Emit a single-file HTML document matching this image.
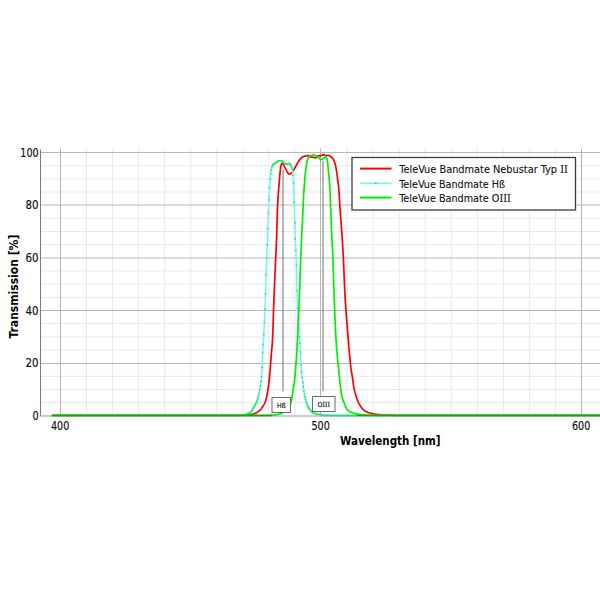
<!DOCTYPE html>
<html><head><meta charset="utf-8"><style>
html,body{margin:0;padding:0;background:#fff;width:600px;height:600px;overflow:hidden}
svg{display:block}
text{font-family:"DejaVu Sans Condensed","DejaVu Sans","Liberation Sans",sans-serif;font-size:11px;fill:#141414}
.i{font-family:"DejaVu Serif Condensed","DejaVu Serif","Liberation Serif",serif}
.b{font-weight:bold;font-size:11.5px;fill:#000}
.s{font-size:7px;fill:#111;stroke:#111;stroke-width:0.15}
.t{font-size:12px;stroke:#141414;stroke-width:0.2}
.l{stroke:#141414;stroke-width:0.12}
</style></head><body>
<svg width="600" height="600" viewBox="0 0 600 600">
<rect width="600" height="600" fill="#fff"/>
<line x1="41" x2="600" y1="402.66" y2="402.66" stroke="#e8e8e8"/>
<line x1="41" x2="600" y1="389.50" y2="389.50" stroke="#e8e8e8"/>
<line x1="41" x2="600" y1="376.33" y2="376.33" stroke="#e8e8e8"/>
<line x1="41" x2="600" y1="350.00" y2="350.00" stroke="#e8e8e8"/>
<line x1="41" x2="600" y1="336.83" y2="336.83" stroke="#e8e8e8"/>
<line x1="41" x2="600" y1="323.66" y2="323.66" stroke="#e8e8e8"/>
<line x1="41" x2="600" y1="297.33" y2="297.33" stroke="#e8e8e8"/>
<line x1="41" x2="600" y1="284.16" y2="284.16" stroke="#e8e8e8"/>
<line x1="41" x2="600" y1="271.00" y2="271.00" stroke="#e8e8e8"/>
<line x1="41" x2="600" y1="244.67" y2="244.67" stroke="#e8e8e8"/>
<line x1="41" x2="600" y1="231.50" y2="231.50" stroke="#e8e8e8"/>
<line x1="41" x2="600" y1="218.33" y2="218.33" stroke="#e8e8e8"/>
<line x1="41" x2="600" y1="192.00" y2="192.00" stroke="#e8e8e8"/>
<line x1="41" x2="600" y1="178.83" y2="178.83" stroke="#e8e8e8"/>
<line x1="41" x2="600" y1="165.67" y2="165.67" stroke="#e8e8e8"/>
<line x1="86.55" x2="86.55" y1="148.5" y2="415.5" stroke="#e8e8e8"/>
<line x1="112.60" x2="112.60" y1="148.5" y2="415.5" stroke="#e8e8e8"/>
<line x1="138.65" x2="138.65" y1="148.5" y2="415.5" stroke="#e8e8e8"/>
<line x1="164.70" x2="164.70" y1="148.5" y2="415.5" stroke="#e8e8e8"/>
<line x1="190.75" x2="190.75" y1="148.5" y2="415.5" stroke="#e8e8e8"/>
<line x1="216.80" x2="216.80" y1="148.5" y2="415.5" stroke="#e8e8e8"/>
<line x1="242.85" x2="242.85" y1="148.5" y2="415.5" stroke="#e8e8e8"/>
<line x1="268.90" x2="268.90" y1="148.5" y2="415.5" stroke="#e8e8e8"/>
<line x1="294.95" x2="294.95" y1="148.5" y2="415.5" stroke="#e8e8e8"/>
<line x1="347.05" x2="347.05" y1="148.5" y2="415.5" stroke="#e8e8e8"/>
<line x1="373.10" x2="373.10" y1="148.5" y2="415.5" stroke="#e8e8e8"/>
<line x1="399.15" x2="399.15" y1="148.5" y2="415.5" stroke="#e8e8e8"/>
<line x1="425.20" x2="425.20" y1="148.5" y2="415.5" stroke="#e8e8e8"/>
<line x1="451.25" x2="451.25" y1="148.5" y2="415.5" stroke="#e8e8e8"/>
<line x1="477.30" x2="477.30" y1="148.5" y2="415.5" stroke="#e8e8e8"/>
<line x1="503.35" x2="503.35" y1="148.5" y2="415.5" stroke="#e8e8e8"/>
<line x1="529.40" x2="529.40" y1="148.5" y2="415.5" stroke="#e8e8e8"/>
<line x1="555.45" x2="555.45" y1="148.5" y2="415.5" stroke="#e8e8e8"/>
<line x1="41" x2="600" y1="152.5" y2="152.5" stroke="#b8b8b8"/>
<line x1="41" x2="600" y1="205.0" y2="205.0" stroke="#b8b8b8"/>
<line x1="41" x2="600" y1="258.0" y2="258.0" stroke="#b8b8b8"/>
<line x1="41" x2="600" y1="310.5" y2="310.5" stroke="#b8b8b8"/>
<line x1="41" x2="600" y1="363.5" y2="363.5" stroke="#b8b8b8"/>
<line x1="60.5" x2="60.5" y1="148.5" y2="415.5" stroke="#b4b4b4"/>
<line x1="320.5" x2="320.5" y1="148.5" y2="415.5" stroke="#b4b4b4"/>
<line x1="581.5" x2="581.5" y1="148.5" y2="415.5" stroke="#b4b4b4"/>
<line x1="40.5" x2="40.5" y1="149.5" y2="416.2" stroke="#7a7a7a"/>
<line x1="40" x2="600" y1="416" y2="416" stroke="#999"/>
<line x1="283" x2="283" y1="170" y2="391.5" stroke="#707070"/>
<line x1="323" x2="323" y1="161" y2="391.5" stroke="#707070"/>
<path d="M52.16,415.45 L237.12,415.43 L237.38,415.42 L237.64,415.41 L237.90,415.40 L238.16,415.38 L238.42,415.37 L238.68,415.35 L238.94,415.34 L239.20,415.32 L239.46,415.30 L239.72,415.29 L239.98,415.27 L240.25,415.25 L240.51,415.23 L240.77,415.22 L241.03,415.20 L241.29,415.19 L241.55,415.17 L241.81,415.16 L242.07,415.15 L242.33,415.14 L242.59,415.12 L242.85,415.11 L243.11,415.11 L243.37,415.10 L243.63,415.09 L243.89,415.08 L244.15,415.07 L244.41,415.06 L244.67,415.05 L244.93,415.04 L245.19,415.03 L245.46,415.03 L245.72,415.02 L245.98,415.01 L246.24,414.99 L246.50,414.98 L246.76,414.97 L247.02,414.96 L247.28,414.94 L247.54,414.93 L247.80,414.91 L248.06,414.90 L248.32,414.88 L248.58,414.85 L248.84,414.83 L249.10,414.80 L249.36,414.76 L249.62,414.73 L249.88,414.69 L250.14,414.65 L250.40,414.61 L250.67,414.56 L250.93,414.52 L251.19,414.47 L251.45,414.42 L251.71,414.37 L251.97,414.31 L252.23,414.26 L252.49,414.20 L252.75,414.14 L253.01,414.08 L253.27,414.01 L253.53,413.93 L253.79,413.85 L254.05,413.76 L254.31,413.67 L254.57,413.57 L254.83,413.47 L255.09,413.37 L255.35,413.26 L255.61,413.15 L255.88,413.03 L256.14,412.90 L256.40,412.76 L256.66,412.61 L256.92,412.45 L257.18,412.29 L257.44,412.12 L257.70,411.95 L257.96,411.77 L258.22,411.59 L258.48,411.40 L258.74,411.20 L259.00,410.99 L259.26,410.78 L259.52,410.55 L259.78,410.32 L260.04,410.07 L260.30,409.81 L260.56,409.54 L260.82,409.25 L261.09,408.93 L261.35,408.59 L261.61,408.23 L261.87,407.86 L262.13,407.47 L262.39,407.08 L262.65,406.68 L262.91,406.28 L263.17,405.89 L263.43,405.50 L263.69,405.09 L263.95,404.65 L264.21,404.19 L264.47,403.68 L264.73,403.13 L264.99,402.49 L265.25,401.77 L265.51,400.97 L265.77,400.12 L266.03,399.23 L266.30,398.31 L266.56,397.33 L266.82,396.27 L267.08,395.10 L267.34,393.77 L267.60,392.21 L267.86,390.48 L268.12,388.67 L268.38,386.78 L268.64,384.78 L268.90,382.65 L269.16,380.36 L269.42,377.87 L269.68,375.14 L269.94,372.22 L270.20,369.17 L270.46,365.97 L270.72,362.49 L270.98,358.88 L271.24,355.33 L271.51,352.02 L271.77,349.16 L272.03,346.37 L272.29,343.20 L272.55,339.17 L272.81,333.29 L273.07,325.78 L273.33,317.43 L273.59,309.02 L273.85,301.34 L274.11,294.66 L274.37,288.25 L274.63,282.06 L274.89,276.02 L275.15,270.09 L275.41,264.22 L275.67,258.40 L275.93,253.09 L276.19,247.88 L276.45,242.07 L276.72,234.69 L276.98,224.75 L277.24,215.60 L277.50,208.05 L277.76,202.21 L278.02,197.86 L278.28,194.21 L278.54,190.81 L278.80,187.39 L279.06,184.11 L279.32,180.98 L279.58,178.01 L279.84,175.14 L280.10,172.24 L280.36,169.63 L280.62,167.66 L280.88,166.17 L281.14,164.96 L281.40,164.19 L281.66,163.71 L281.93,163.35 L282.19,163.20 L282.45,163.28 L282.71,163.49 L282.97,163.78 L283.23,164.11 L283.49,164.47 L283.75,164.93 L284.01,165.48 L284.27,166.06 L284.53,166.64 L284.79,167.18 L285.05,167.68 L285.31,168.18 L285.57,168.66 L285.83,169.15 L286.09,169.62 L286.35,170.10 L286.61,170.59 L286.87,171.10 L287.14,171.60 L287.40,172.08 L287.66,172.52 L287.92,172.90 L288.18,173.22 L288.44,173.55 L288.70,173.85 L288.96,174.07 L289.22,174.19 L289.48,174.19 L289.74,174.13 L290.00,174.03 L290.26,173.92 L290.52,173.79 L290.78,173.62 L291.04,173.39 L291.30,173.12 L291.56,172.82 L291.82,172.51 L292.08,172.20 L292.35,171.87 L292.61,171.52 L292.87,171.14 L293.13,170.76 L293.39,170.37 L293.65,169.98 L293.91,169.58 L294.17,169.17 L294.43,168.76 L294.69,168.33 L294.95,167.89 L295.21,167.43 L295.47,166.95 L295.73,166.45 L295.99,165.94 L296.25,165.44 L296.51,164.94 L296.77,164.47 L297.03,163.99 L297.29,163.52 L297.56,163.05 L297.82,162.60 L298.08,162.16 L298.34,161.74 L298.60,161.34 L298.86,160.95 L299.12,160.57 L299.38,160.20 L299.64,159.86 L299.90,159.52 L300.16,159.21 L300.42,158.90 L300.68,158.60 L300.94,158.32 L301.20,158.05 L301.46,157.80 L301.72,157.58 L301.98,157.37 L302.24,157.17 L302.50,156.98 L302.77,156.82 L303.03,156.68 L303.29,156.57 L303.55,156.47 L303.81,156.38 L304.07,156.31 L304.33,156.25 L304.59,156.20 L304.85,156.17 L305.11,156.14 L305.37,156.12 L305.63,156.10 L305.89,156.09 L306.15,156.06 L306.41,156.04 L306.67,156.00 L306.93,155.94 L307.19,155.83 L307.45,155.69 L307.71,155.56 L307.98,155.46 L308.24,155.40 L308.50,155.44 L308.76,155.58 L309.02,155.80 L309.28,156.07 L309.54,156.36 L309.80,156.62 L310.06,156.84 L310.32,156.98 L310.58,157.03 L310.84,157.07 L311.10,157.10 L311.36,157.13 L311.62,157.15 L311.88,157.17 L312.14,157.19 L312.40,157.21 L312.66,157.23 L312.92,157.26 L313.19,157.28 L313.45,157.32 L313.71,157.37 L313.97,157.44 L314.23,157.51 L314.49,157.58 L314.75,157.64 L315.01,157.70 L315.27,157.75 L315.53,157.79 L315.79,157.80 L316.05,157.75 L316.31,157.60 L316.57,157.38 L316.83,157.12 L317.09,156.83 L317.35,156.54 L317.61,156.28 L317.87,156.07 L318.13,155.93 L318.40,155.89 L318.66,155.88 L318.92,155.87 L319.18,155.86 L319.44,155.85 L319.70,155.85 L319.96,155.84 L320.22,155.83 L320.48,155.82 L320.74,155.80 L321.00,155.77 L321.26,155.67 L321.52,155.53 L321.78,155.36 L322.04,155.18 L322.30,155.00 L322.56,154.84 L322.82,154.71 L323.08,154.62 L323.34,154.60 L323.61,154.64 L323.87,154.73 L324.13,154.86 L324.39,155.00 L324.65,155.16 L324.91,155.31 L325.17,155.44 L325.43,155.54 L325.69,155.59 L325.95,155.60 L326.21,155.59 L326.47,155.56 L326.73,155.54 L326.99,155.51 L327.25,155.48 L327.51,155.45 L327.77,155.42 L328.03,155.41 L328.29,155.40 L328.55,155.42 L328.82,155.49 L329.08,155.59 L329.34,155.72 L329.60,155.87 L329.86,156.04 L330.12,156.22 L330.38,156.41 L330.64,156.59 L330.90,156.77 L331.16,156.95 L331.42,157.16 L331.68,157.38 L331.94,157.63 L332.20,157.89 L332.46,158.19 L332.72,158.54 L332.98,158.93 L333.24,159.35 L333.50,159.81 L333.76,160.30 L334.03,160.85 L334.29,161.45 L334.55,162.12 L334.81,162.89 L335.07,163.75 L335.33,164.71 L335.59,165.80 L335.85,167.04 L336.11,168.42 L336.37,169.89 L336.63,171.50 L336.89,173.25 L337.15,175.13 L337.41,177.23 L337.67,179.54 L337.93,181.76 L338.19,183.63 L338.45,185.44 L338.71,187.64 L338.97,190.82 L339.24,195.08 L339.50,199.82 L339.76,204.43 L340.02,208.39 L340.28,211.98 L340.54,215.39 L340.80,218.68 L341.06,221.95 L341.32,225.27 L341.58,228.73 L341.84,232.41 L342.10,236.33 L342.36,240.42 L342.62,244.69 L342.88,249.18 L343.14,253.92 L343.40,259.08 L343.66,264.88 L343.92,271.08 L344.18,277.39 L344.45,283.56 L344.71,289.32 L344.97,294.40 L345.23,298.83 L345.49,302.98 L345.75,306.90 L346.01,310.62 L346.27,314.19 L346.53,317.63 L346.79,320.98 L347.05,324.29 L347.31,327.59 L347.57,330.91 L347.83,334.19 L348.09,337.41 L348.35,340.57 L348.61,343.67 L348.87,346.71 L349.13,349.70 L349.39,352.63 L349.66,355.51 L349.92,358.38 L350.18,361.24 L350.44,363.93 L350.70,366.28 L350.96,368.26 L351.22,370.03 L351.48,371.66 L351.74,373.22 L352.00,374.78 L352.26,376.43 L352.52,378.23 L352.78,380.15 L353.04,382.09 L353.30,383.95 L353.56,385.66 L353.82,387.12 L354.08,388.38 L354.34,389.56 L354.60,390.66 L354.87,391.68 L355.13,392.65 L355.39,393.57 L355.65,394.46 L355.91,395.32 L356.17,396.17 L356.43,396.99 L356.69,397.79 L356.95,398.56 L357.21,399.31 L357.47,400.02 L357.73,400.70 L357.99,401.35 L358.25,401.96 L358.51,402.53 L358.77,403.06 L359.03,403.59 L359.29,404.10 L359.55,404.58 L359.81,405.05 L360.08,405.50 L360.34,405.93 L360.60,406.34 L360.86,406.73 L361.12,407.09 L361.38,407.43 L361.64,407.74 L361.90,408.04 L362.16,408.33 L362.42,408.62 L362.68,408.89 L362.94,409.15 L363.20,409.41 L363.46,409.65 L363.72,409.88 L363.98,410.11 L364.24,410.32 L364.50,410.52 L364.76,410.71 L365.02,410.89 L365.29,411.06 L365.55,411.21 L365.81,411.36 L366.07,411.49 L366.33,411.63 L366.59,411.76 L366.85,411.88 L367.11,412.00 L367.37,412.11 L367.63,412.22 L367.89,412.33 L368.15,412.43 L368.41,412.53 L368.67,412.63 L368.93,412.72 L369.19,412.81 L369.45,412.89 L369.71,412.97 L369.97,413.05 L370.23,413.13 L370.50,413.20 L370.76,413.26 L371.02,413.33 L371.28,413.39 L371.54,413.45 L371.80,413.51 L372.06,413.57 L372.32,413.63 L372.58,413.69 L372.84,413.74 L373.10,413.79 L373.36,413.84 L373.62,413.89 L373.88,413.94 L374.14,413.99 L374.40,414.03 L374.66,414.08 L374.92,414.12 L375.18,414.16 L375.44,414.20 L375.71,414.24 L375.97,414.27 L376.23,414.31 L376.49,414.34 L376.75,414.37 L377.01,414.40 L377.27,414.43 L377.53,414.46 L377.79,414.48 L378.05,414.51 L378.31,414.53 L378.57,414.56 L378.83,414.58 L379.09,414.61 L379.35,414.63 L379.61,414.65 L379.87,414.67 L380.13,414.69 L380.39,414.71 L380.65,414.73 L380.92,414.75 L381.18,414.77 L381.44,414.79 L381.70,414.80 L381.96,414.82 L382.22,414.84 L382.48,414.85 L382.74,414.87 L383.00,414.88 L383.26,414.90 L383.52,414.91 L383.78,414.93 L384.04,414.94 L384.30,414.95 L384.56,414.97 L384.82,414.98 L385.08,414.99 L385.34,415.00 L385.60,415.01 L385.86,415.03 L386.13,415.04 L386.39,415.05 L386.65,415.06 L386.91,415.07 L387.17,415.08 L387.43,415.09 L387.69,415.10 L387.95,415.11 L388.21,415.12 L388.47,415.13 L388.73,415.14 L388.99,415.15 L389.25,415.16 L389.51,415.17 L389.77,415.18 L390.03,415.19 L390.29,415.20 L390.55,415.20 L390.81,415.21 L391.07,415.22 L391.34,415.23 L391.60,415.24 L391.86,415.25 L392.12,415.25 L392.38,415.26 L392.64,415.27 L392.90,415.28 L393.16,415.29 L393.42,415.30 L393.68,415.30 L393.94,415.31 L394.20,415.32 L394.46,415.33 L394.72,415.34 L394.98,415.35 L395.24,415.36 L395.50,415.37 L395.76,415.37 L396.02,415.38 L396.28,415.39 L396.55,415.40 L396.81,415.40 L397.07,415.41 L397.33,415.42 L397.59,415.42 L397.85,415.43 L398.11,415.43 L600.00,415.45" fill="none" stroke="#ff0000" stroke-width="1.7" stroke-linejoin="round"/>
<path d="M52.16,415.45 L235.04,415.43 L235.30,415.42 L235.56,415.41 L235.82,415.40 L236.08,415.39 L236.34,415.38 L236.60,415.36 L236.86,415.34 L237.12,415.33 L237.38,415.31 L237.64,415.29 L237.90,415.28 L238.16,415.26 L238.42,415.24 L238.68,415.22 L238.94,415.20 L239.20,415.19 L239.46,415.17 L239.72,415.15 L239.98,415.13 L240.25,415.11 L240.51,415.09 L240.77,415.07 L241.03,415.04 L241.29,415.02 L241.55,415.00 L241.81,414.97 L242.07,414.94 L242.33,414.91 L242.59,414.89 L242.85,414.85 L243.11,414.82 L243.37,414.79 L243.63,414.75 L243.89,414.72 L244.15,414.68 L244.41,414.63 L244.67,414.59 L244.93,414.53 L245.19,414.48 L245.46,414.41 L245.72,414.35 L245.98,414.28 L246.24,414.21 L246.50,414.13 L246.76,414.05 L247.02,413.97 L247.28,413.88 L247.54,413.79 L247.80,413.69 L248.06,413.59 L248.32,413.48 L248.58,413.36 L248.84,413.24 L249.10,413.10 L249.36,412.96 L249.62,412.80 L249.88,412.64 L250.14,412.46 L250.40,412.28 L250.67,412.08 L250.93,411.86 L251.19,411.62 L251.45,411.32 L251.71,410.97 L251.97,410.56 L252.23,410.12 L252.49,409.65 L252.75,409.16 L253.01,408.66 L253.27,408.15 L253.53,407.65 L253.79,407.16 L254.05,406.68 L254.31,406.24 L254.57,405.80 L254.83,405.36 L255.09,404.92 L255.35,404.46 L255.61,403.98 L255.88,403.46 L256.14,402.91 L256.40,402.31 L256.66,401.68 L256.92,401.00 L257.18,400.28 L257.44,399.51 L257.70,398.67 L257.96,397.73 L258.22,396.69 L258.48,395.59 L258.74,394.46 L259.00,393.33 L259.26,392.19 L259.52,390.97 L259.78,389.60 L260.04,388.03 L260.30,386.26 L260.56,384.33 L260.82,382.28 L261.09,380.13 L261.35,378.00 L261.61,375.62 L261.87,372.24 L262.13,365.92 L262.39,358.36 L262.65,352.43 L262.91,348.40 L263.17,344.93 L263.43,341.18 L263.69,336.59 L263.95,331.57 L264.21,326.18 L264.47,320.43 L264.73,314.34 L264.99,307.93 L265.25,301.24 L265.51,293.85 L265.77,285.37 L266.03,276.50 L266.30,267.99 L266.56,260.53 L266.82,254.25 L267.08,248.46 L267.34,242.47 L267.60,235.51 L267.86,227.13 L268.12,218.93 L268.38,212.39 L268.64,206.77 L268.90,201.02 L269.16,194.95 L269.42,189.62 L269.68,185.10 L269.94,181.12 L270.20,177.97 L270.46,175.54 L270.72,173.48 L270.98,171.73 L271.24,170.26 L271.51,168.95 L271.77,167.77 L272.03,166.78 L272.29,166.03 L272.55,165.48 L272.81,165.02 L273.07,164.66 L273.33,164.37 L273.59,164.14 L273.85,163.95 L274.11,163.78 L274.37,163.63 L274.63,163.49 L274.89,163.34 L275.15,163.19 L275.41,163.03 L275.67,162.86 L275.93,162.70 L276.19,162.53 L276.45,162.37 L276.72,162.20 L276.98,162.02 L277.24,161.85 L277.50,161.64 L277.76,161.39 L278.02,161.14 L278.28,160.94 L278.54,160.81 L278.80,160.78 L279.06,160.75 L279.32,160.73 L279.58,160.71 L279.84,160.70 L280.10,160.70 L280.36,160.71 L280.62,160.72 L280.88,160.74 L281.14,160.77 L281.40,160.80 L281.66,160.84 L281.93,160.89 L282.19,160.96 L282.45,161.10 L282.71,161.31 L282.97,161.56 L283.23,161.83 L283.49,162.10 L283.75,162.34 L284.01,162.62 L284.27,162.92 L284.53,163.23 L284.79,163.51 L285.05,163.75 L285.31,163.91 L285.57,164.02 L285.83,164.12 L286.09,164.21 L286.35,164.27 L286.61,164.30 L286.87,164.28 L287.14,164.20 L287.40,164.07 L287.66,163.94 L287.92,163.83 L288.18,163.75 L288.44,163.67 L288.70,163.59 L288.96,163.53 L289.22,163.50 L289.48,163.54 L289.74,163.71 L290.00,163.99 L290.26,164.34 L290.52,164.73 L290.78,165.13 L291.04,165.63 L291.30,166.24 L291.56,166.92 L291.82,167.64 L292.08,168.39 L292.35,169.29 L292.61,170.53 L292.87,172.80 L293.13,176.04 L293.39,179.51 L293.65,183.89 L293.91,191.48 L294.17,202.53 L294.43,212.67 L294.69,221.06 L294.95,228.87 L295.21,236.01 L295.47,242.25 L295.73,247.46 L295.99,252.59 L296.25,258.70 L296.51,267.41 L296.77,278.89 L297.03,290.57 L297.29,299.85 L297.56,306.54 L297.82,312.46 L298.08,317.73 L298.34,322.48 L298.60,326.82 L298.86,330.86 L299.12,334.35 L299.38,337.37 L299.64,340.22 L299.90,343.19 L300.16,346.59 L300.42,350.86 L300.68,356.65 L300.94,362.70 L301.20,367.43 L301.46,370.67 L301.72,373.38 L301.98,375.76 L302.24,378.01 L302.50,380.22 L302.77,382.26 L303.03,384.20 L303.29,386.15 L303.55,388.14 L303.81,390.09 L304.07,391.89 L304.33,393.43 L304.59,394.84 L304.85,396.15 L305.11,397.35 L305.37,398.47 L305.63,399.52 L305.89,400.52 L306.15,401.49 L306.41,402.41 L306.67,403.28 L306.93,404.07 L307.19,404.79 L307.45,405.43 L307.71,406.01 L307.98,406.56 L308.24,407.07 L308.50,407.56 L308.76,408.01 L309.02,408.44 L309.28,408.84 L309.54,409.22 L309.80,409.57 L310.06,409.90 L310.32,410.22 L310.58,410.53 L310.84,410.82 L311.10,411.10 L311.36,411.37 L311.62,411.61 L311.88,411.84 L312.14,412.05 L312.40,412.24 L312.66,412.40 L312.92,412.56 L313.19,412.71 L313.45,412.85 L313.71,412.98 L313.97,413.10 L314.23,413.21 L314.49,413.32 L314.75,413.41 L315.01,413.50 L315.27,413.59 L315.53,413.67 L315.79,413.74 L316.05,413.82 L316.31,413.89 L316.57,413.95 L316.83,414.02 L317.09,414.08 L317.35,414.13 L317.61,414.19 L317.87,414.24 L318.13,414.29 L318.40,414.34 L318.66,414.38 L318.92,414.42 L319.18,414.47 L319.44,414.51 L319.70,414.54 L319.96,414.58 L320.22,414.62 L320.48,414.65 L320.74,414.68 L321.00,414.71 L321.26,414.75 L321.52,414.78 L321.78,414.81 L322.04,414.84 L322.30,414.87 L322.56,414.89 L322.82,414.92 L323.08,414.95 L323.34,414.98 L323.61,415.00 L323.87,415.03 L324.13,415.06 L324.39,415.08 L324.65,415.10 L324.91,415.12 L325.17,415.14 L325.43,415.16 L325.69,415.18 L325.95,415.20 L326.21,415.21 L326.47,415.23 L326.73,415.24 L326.99,415.26 L327.25,415.27 L327.51,415.29 L327.77,415.30 L328.03,415.32 L328.29,415.33 L328.55,415.35 L328.82,415.36 L329.08,415.37 L329.34,415.38 L329.60,415.40 L329.86,415.41 L330.12,415.42 L330.38,415.42 L330.64,415.43 L600.00,415.45" fill="none" stroke="#70f6f6" stroke-width="1.5" stroke-linejoin="round"/>
<path d="M321,415.45H357" stroke="#48b8c4" stroke-width="1.5" fill="none"/>
<path d="M235.54,414.63h1.5v1.5h-1.5zM236.11,414.59h1.5v1.5h-1.5zM236.68,414.56h1.5v1.5h-1.5zM237.25,414.52h1.5v1.5h-1.5zM237.83,414.48h1.5v1.5h-1.5zM238.40,414.44h1.5v1.5h-1.5zM238.97,414.40h1.5v1.5h-1.5zM239.55,414.36h1.5v1.5h-1.5zM240.12,414.31h1.5v1.5h-1.5zM240.69,414.26h1.5v1.5h-1.5zM241.27,414.20h1.5v1.5h-1.5zM241.84,414.14h1.5v1.5h-1.5zM242.41,414.07h1.5v1.5h-1.5zM242.99,413.99h1.5v1.5h-1.5zM243.56,413.90h1.5v1.5h-1.5zM244.13,413.79h1.5v1.5h-1.5zM244.71,413.66h1.5v1.5h-1.5zM245.28,413.52h1.5v1.5h-1.5zM245.85,413.35h1.5v1.5h-1.5zM246.42,413.16h1.5v1.5h-1.5zM247.00,412.96h1.5v1.5h-1.5zM247.57,412.73h1.5v1.5h-1.5zM248.14,412.46h1.5v1.5h-1.5zM248.72,412.15h1.5v1.5h-1.5zM249.29,411.79h1.5v1.5h-1.5zM249.86,411.37h1.5v1.5h-1.5zM250.44,410.87h1.5v1.5h-1.5zM251.01,410.14h1.5v1.5h-1.5zM251.58,409.19h1.5v1.5h-1.5zM252.16,408.11h1.5v1.5h-1.5zM252.73,407.00h1.5v1.5h-1.5zM253.30,405.93h1.5v1.5h-1.5zM253.87,404.96h1.5v1.5h-1.5zM254.45,403.99h1.5v1.5h-1.5zM255.02,402.92h1.5v1.5h-1.5zM255.59,401.68h1.5v1.5h-1.5zM256.17,400.25h1.5v1.5h-1.5zM256.74,398.60h1.5v1.5h-1.5zM257.31,396.57h1.5v1.5h-1.5zM257.89,394.16h1.5v1.5h-1.5zM258.46,391.67h1.5v1.5h-1.5zM259.03,388.85h1.5v1.5h-1.5zM259.61,385.14h1.5v1.5h-1.5zM260.18,380.68h1.5v1.5h-1.5zM260.75,375.90h1.5v1.5h-1.5zM261.32,366.62h1.5v1.5h-1.5zM261.90,351.68h1.5v1.5h-1.5zM262.47,343.48h1.5v1.5h-1.5zM263.04,333.88h1.5v1.5h-1.5zM263.62,322.02h1.5v1.5h-1.5zM264.19,308.49h1.5v1.5h-1.5zM264.76,293.10h1.5v1.5h-1.5zM265.34,274.00h1.5v1.5h-1.5zM265.91,257.16h1.5v1.5h-1.5zM266.48,244.19h1.5v1.5h-1.5zM267.06,228.10h1.5v1.5h-1.5zM267.63,211.64h1.5v1.5h-1.5zM268.20,199.05h1.5v1.5h-1.5zM268.78,187.02h1.5v1.5h-1.5zM269.35,178.36h1.5v1.5h-1.5zM269.92,173.11h1.5v1.5h-1.5zM270.49,169.51h1.5v1.5h-1.5zM271.07,166.80h1.5v1.5h-1.5zM271.64,165.05h1.5v1.5h-1.5zM272.21,164.04h1.5v1.5h-1.5zM272.79,163.44h1.5v1.5h-1.5zM273.36,163.03h1.5v1.5h-1.5zM273.93,162.71h1.5v1.5h-1.5zM274.51,162.38h1.5v1.5h-1.5zM275.08,162.01h1.5v1.5h-1.5zM275.65,161.65h1.5v1.5h-1.5zM276.23,161.27h1.5v1.5h-1.5zM276.80,160.84h1.5v1.5h-1.5zM277.37,160.30h1.5v1.5h-1.5zM277.94,160.04h1.5v1.5h-1.5zM278.52,159.98h1.5v1.5h-1.5zM279.09,159.95h1.5v1.5h-1.5zM279.66,159.96h1.5v1.5h-1.5zM280.24,160.00h1.5v1.5h-1.5zM280.81,160.08h1.5v1.5h-1.5zM281.38,160.19h1.5v1.5h-1.5zM281.96,160.56h1.5v1.5h-1.5zM282.53,161.13h1.5v1.5h-1.5zM283.10,161.70h1.5v1.5h-1.5zM283.68,162.36h1.5v1.5h-1.5zM284.25,162.96h1.5v1.5h-1.5zM284.82,163.27h1.5v1.5h-1.5zM285.40,163.47h1.5v1.5h-1.5zM285.97,163.55h1.5v1.5h-1.5zM286.54,163.38h1.5v1.5h-1.5zM287.11,163.10h1.5v1.5h-1.5zM287.69,162.92h1.5v1.5h-1.5zM288.26,162.77h1.5v1.5h-1.5zM288.83,162.84h1.5v1.5h-1.5zM289.41,163.44h1.5v1.5h-1.5zM289.98,164.30h1.5v1.5h-1.5zM290.55,165.49h1.5v1.5h-1.5zM291.13,167.04h1.5v1.5h-1.5zM291.70,168.99h1.5v1.5h-1.5zM292.27,173.94h1.5v1.5h-1.5zM292.85,182.13h1.5v1.5h-1.5zM293.42,201.78h1.5v1.5h-1.5zM293.99,221.92h1.5v1.5h-1.5zM294.56,237.92h1.5v1.5h-1.5zM295.14,249.73h1.5v1.5h-1.5zM295.71,264.62h1.5v1.5h-1.5zM296.28,289.82h1.5v1.5h-1.5zM296.86,307.04h1.5v1.5h-1.5zM297.43,318.94h1.5v1.5h-1.5zM298.00,328.53h1.5v1.5h-1.5zM298.58,336.04h1.5v1.5h-1.5zM299.15,342.44h1.5v1.5h-1.5zM299.72,351.18h1.5v1.5h-1.5zM300.30,364.08h1.5v1.5h-1.5zM300.87,371.60h1.5v1.5h-1.5zM301.44,376.81h1.5v1.5h-1.5zM302.02,381.51h1.5v1.5h-1.5zM302.59,385.80h1.5v1.5h-1.5zM303.16,390.09h1.5v1.5h-1.5zM303.73,393.54h1.5v1.5h-1.5zM304.31,396.37h1.5v1.5h-1.5zM304.88,398.77h1.5v1.5h-1.5zM305.45,400.93h1.5v1.5h-1.5zM306.03,402.85h1.5v1.5h-1.5zM306.60,404.43h1.5v1.5h-1.5zM307.17,405.70h1.5v1.5h-1.5zM307.75,406.81h1.5v1.5h-1.5zM308.32,407.77h1.5v1.5h-1.5zM308.89,408.61h1.5v1.5h-1.5zM309.47,409.34h1.5v1.5h-1.5zM310.04,410.02h1.5v1.5h-1.5zM310.61,410.62h1.5v1.5h-1.5zM311.18,411.13h1.5v1.5h-1.5zM311.76,411.55h1.5v1.5h-1.5zM312.33,411.90h1.5v1.5h-1.5zM312.90,412.20h1.5v1.5h-1.5zM313.48,412.46h1.5v1.5h-1.5zM314.05,412.68h1.5v1.5h-1.5zM314.62,412.87h1.5v1.5h-1.5zM315.20,413.04h1.5v1.5h-1.5zM315.77,413.19h1.5v1.5h-1.5zM316.34,413.33h1.5v1.5h-1.5zM316.92,413.45h1.5v1.5h-1.5zM317.49,413.56h1.5v1.5h-1.5zM318.06,413.66h1.5v1.5h-1.5zM318.63,413.75h1.5v1.5h-1.5zM319.21,413.83h1.5v1.5h-1.5zM319.78,413.91h1.5v1.5h-1.5zM320.25,413.96h1.5v1.5h-1.5zM322.86,414.25h1.5v1.5h-1.5zM325.46,414.46h1.5v1.5h-1.5zM328.06,414.61h1.5v1.5h-1.5zM330.67,414.70h1.5v1.5h-1.5zM333.27,414.70h1.5v1.5h-1.5zM335.88,414.70h1.5v1.5h-1.5zM338.49,414.70h1.5v1.5h-1.5zM341.09,414.70h1.5v1.5h-1.5zM343.69,414.70h1.5v1.5h-1.5zM346.30,414.70h1.5v1.5h-1.5zM348.90,414.70h1.5v1.5h-1.5zM351.51,414.70h1.5v1.5h-1.5zM354.12,414.70h1.5v1.5h-1.5zM356.72,414.70h1.5v1.5h-1.5z" fill="#10ee50"/>
<path d="M52.16,415.45 L263.69,415.43 L263.95,415.43 L264.21,415.42 L264.47,415.42 L264.73,415.41 L264.99,415.40 L265.25,415.39 L265.51,415.38 L265.77,415.38 L266.03,415.37 L266.30,415.36 L266.56,415.35 L266.82,415.34 L267.08,415.33 L267.34,415.31 L267.60,415.30 L267.86,415.29 L268.12,415.28 L268.38,415.27 L268.64,415.26 L268.90,415.25 L269.16,415.24 L269.42,415.22 L269.68,415.21 L269.94,415.20 L270.20,415.19 L270.46,415.18 L270.72,415.17 L270.98,415.16 L271.24,415.15 L271.51,415.13 L271.77,415.12 L272.03,415.11 L272.29,415.09 L272.55,415.08 L272.81,415.06 L273.07,415.05 L273.33,415.03 L273.59,415.01 L273.85,414.99 L274.11,414.98 L274.37,414.95 L274.63,414.93 L274.89,414.91 L275.15,414.89 L275.41,414.86 L275.67,414.83 L275.93,414.79 L276.19,414.75 L276.45,414.71 L276.72,414.67 L276.98,414.62 L277.24,414.57 L277.50,414.52 L277.76,414.47 L278.02,414.41 L278.28,414.35 L278.54,414.29 L278.80,414.22 L279.06,414.16 L279.32,414.09 L279.58,414.02 L279.84,413.95 L280.10,413.87 L280.36,413.79 L280.62,413.69 L280.88,413.59 L281.14,413.49 L281.40,413.37 L281.66,413.25 L281.93,413.12 L282.19,412.99 L282.45,412.86 L282.71,412.72 L282.97,412.58 L283.23,412.44 L283.49,412.30 L283.75,412.15 L284.01,412.00 L284.27,411.84 L284.53,411.67 L284.79,411.50 L285.05,411.32 L285.31,411.13 L285.57,410.94 L285.83,410.74 L286.09,410.52 L286.35,410.30 L286.61,410.06 L286.87,409.81 L287.14,409.55 L287.40,409.27 L287.66,408.98 L287.92,408.67 L288.18,408.36 L288.44,408.02 L288.70,407.68 L288.96,407.33 L289.22,406.94 L289.48,406.51 L289.74,406.04 L290.00,405.50 L290.26,404.85 L290.52,404.06 L290.78,403.15 L291.04,402.15 L291.30,401.05 L291.56,399.76 L291.82,398.30 L292.08,396.72 L292.35,395.03 L292.61,393.12 L292.87,391.23 L293.13,389.59 L293.39,388.11 L293.65,386.68 L293.91,385.18 L294.17,383.47 L294.43,381.45 L294.69,379.03 L294.95,376.31 L295.21,373.35 L295.47,370.26 L295.73,367.12 L295.99,363.93 L296.25,360.57 L296.51,356.94 L296.77,352.93 L297.03,348.28 L297.29,342.92 L297.56,337.26 L297.82,331.68 L298.08,326.34 L298.34,321.08 L298.60,315.76 L298.86,310.23 L299.12,304.37 L299.38,298.00 L299.64,290.71 L299.90,282.78 L300.16,274.69 L300.42,266.92 L300.68,259.91 L300.94,253.43 L301.20,247.27 L301.46,241.35 L301.72,235.63 L301.98,230.22 L302.24,224.99 L302.50,219.81 L302.77,214.53 L303.03,208.92 L303.29,202.77 L303.55,196.86 L303.81,192.08 L304.07,188.34 L304.33,185.08 L304.59,181.92 L304.85,178.79 L305.11,175.88 L305.37,173.37 L305.63,171.16 L305.89,169.16 L306.15,167.35 L306.41,165.64 L306.67,163.95 L306.93,162.37 L307.19,161.00 L307.45,159.94 L307.71,159.20 L307.98,158.59 L308.24,158.08 L308.50,157.65 L308.76,157.28 L309.02,156.94 L309.28,156.65 L309.54,156.40 L309.80,156.20 L310.06,156.04 L310.32,155.90 L310.58,155.78 L310.84,155.66 L311.10,155.57 L311.36,155.48 L311.62,155.42 L311.88,155.36 L312.14,155.31 L312.40,155.26 L312.66,155.21 L312.92,155.17 L313.19,155.14 L313.45,155.12 L313.71,155.10 L313.97,155.10 L314.23,155.13 L314.49,155.18 L314.75,155.25 L315.01,155.35 L315.27,155.46 L315.53,155.59 L315.79,155.72 L316.05,155.86 L316.31,156.00 L316.57,156.14 L316.83,156.29 L317.09,156.47 L317.35,156.67 L317.61,156.88 L317.87,157.10 L318.13,157.32 L318.40,157.55 L318.66,157.77 L318.92,157.98 L319.18,158.18 L319.44,158.39 L319.70,158.61 L319.96,158.85 L320.22,159.08 L320.48,159.29 L320.74,159.45 L321.00,159.56 L321.26,159.60 L321.52,159.56 L321.78,159.45 L322.04,159.29 L322.30,159.09 L322.56,158.87 L322.82,158.66 L323.08,158.45 L323.34,158.27 L323.61,158.08 L323.87,157.87 L324.13,157.65 L324.39,157.45 L324.65,157.27 L324.91,157.15 L325.17,157.10 L325.43,157.13 L325.69,157.21 L325.95,157.35 L326.21,157.53 L326.47,157.80 L326.73,158.35 L326.99,159.13 L327.25,160.18 L327.51,161.86 L327.77,163.92 L328.03,166.63 L328.29,169.63 L328.55,172.40 L328.82,175.03 L329.08,177.78 L329.34,180.78 L329.60,183.89 L329.86,187.55 L330.12,192.59 L330.38,200.19 L330.64,207.70 L330.90,214.34 L331.16,220.75 L331.42,226.93 L331.68,232.87 L331.94,238.36 L332.20,243.41 L332.46,248.43 L332.72,253.86 L332.98,260.13 L333.24,267.75 L333.50,276.21 L333.76,284.82 L334.03,292.88 L334.29,300.11 L334.55,307.22 L334.81,314.11 L335.07,320.61 L335.33,326.55 L335.59,331.78 L335.85,336.36 L336.11,340.53 L336.37,344.36 L336.63,347.89 L336.89,351.18 L337.15,354.24 L337.41,357.03 L337.67,359.61 L337.93,362.08 L338.19,364.53 L338.45,367.04 L338.71,369.66 L338.97,372.33 L339.24,375.01 L339.50,377.65 L339.76,380.21 L340.02,382.65 L340.28,385.05 L340.54,387.39 L340.80,389.54 L341.06,391.39 L341.32,393.05 L341.58,394.57 L341.84,395.94 L342.10,397.11 L342.36,398.08 L342.62,398.92 L342.88,399.67 L343.14,400.35 L343.40,400.99 L343.66,401.64 L343.92,402.30 L344.18,403.01 L344.45,403.76 L344.71,404.52 L344.97,405.27 L345.23,405.99 L345.49,406.65 L345.75,407.23 L346.01,407.71 L346.27,408.12 L346.53,408.52 L346.79,408.89 L347.05,409.24 L347.31,409.57 L347.57,409.87 L347.83,410.16 L348.09,410.42 L348.35,410.67 L348.61,410.89 L348.87,411.08 L349.13,411.26 L349.39,411.42 L349.66,411.56 L349.92,411.70 L350.18,411.84 L350.44,411.96 L350.70,412.08 L350.96,412.20 L351.22,412.30 L351.48,412.41 L351.74,412.51 L352.00,412.60 L352.26,412.69 L352.52,412.78 L352.78,412.86 L353.04,412.94 L353.30,413.02 L353.56,413.09 L353.82,413.17 L354.08,413.24 L354.34,413.31 L354.60,413.38 L354.87,413.45 L355.13,413.52 L355.39,413.59 L355.65,413.65 L355.91,413.72 L356.17,413.78 L356.43,413.84 L356.69,413.90 L356.95,413.95 L357.21,414.01 L357.47,414.06 L357.73,414.11 L357.99,414.16 L358.25,414.21 L358.51,414.25 L358.77,414.29 L359.03,414.33 L359.29,414.37 L359.55,414.41 L359.81,414.44 L360.08,414.47 L360.34,414.50 L360.60,414.53 L360.86,414.56 L361.12,414.59 L361.38,414.61 L361.64,414.64 L361.90,414.66 L362.16,414.69 L362.42,414.71 L362.68,414.73 L362.94,414.75 L363.20,414.78 L363.46,414.80 L363.72,414.82 L363.98,414.84 L364.24,414.86 L364.50,414.88 L364.76,414.91 L365.02,414.93 L365.29,414.95 L365.55,414.97 L365.81,415.00 L366.07,415.02 L366.33,415.04 L366.59,415.07 L366.85,415.09 L367.11,415.11 L367.37,415.13 L367.63,415.15 L367.89,415.17 L368.15,415.19 L368.41,415.21 L368.67,415.23 L368.93,415.25 L369.19,415.26 L369.45,415.28 L369.71,415.29 L369.97,415.30 L370.23,415.31 L370.50,415.32 L370.76,415.33 L371.02,415.34 L371.28,415.35 L371.54,415.36 L371.80,415.37 L372.06,415.37 L372.32,415.38 L372.58,415.39 L372.84,415.40 L373.10,415.41 L373.36,415.41 L373.62,415.42 L373.88,415.43 L374.14,415.43 L600.00,415.45" fill="none" stroke="#00f000" stroke-width="1.7" stroke-linejoin="round"/>
<path d="M51.5,415.45H272M357,415.45H600" stroke="#1ca01c" stroke-width="1.5" fill="none"/>
<rect x="272" y="397.5" width="18.5" height="15" fill="#fff" stroke="#6a6a6a"/>
<text x="281.3" y="408" text-anchor="middle" class="s">Hß</text>
<rect x="312.5" y="396.5" width="22.5" height="15" fill="#fff" stroke="#6a6a6a"/>
<text x="323.7" y="407" text-anchor="middle" class="s">O<tspan class="i">I</tspan><tspan class="i">I</tspan><tspan class="i">I</tspan></text>
<rect x="352" y="157.5" width="223.5" height="52.5" fill="#fff" stroke="#3c3c3c" stroke-width="1.3"/>
<line x1="360" x2="391.5" y1="168.6" y2="168.6" stroke="#ff0000" stroke-width="2"/>
<line x1="360" x2="391.5" y1="183.4" y2="183.4" stroke="#70f6f6" stroke-width="1.6"/>
<rect x="374.9" y="182.5" width="1.7" height="1.7" fill="#10ee50"/>
<line x1="360" x2="391.5" y1="197.6" y2="197.6" stroke="#00f000" stroke-width="2"/>
<text class="l" x="399.3" y="173" textLength="168.6" lengthAdjust="spacingAndGlyphs">TeleVue Bandmate Nebustar Typ <tspan class="i">I</tspan><tspan class="i">I</tspan></text>
<text class="l" x="399.3" y="187.6" textLength="105.8" lengthAdjust="spacingAndGlyphs">TeleVue Bandmate Hß</text>
<text class="l" x="399.3" y="201.8" textLength="111.6" lengthAdjust="spacingAndGlyphs">TeleVue Bandmate O<tspan class="i">I</tspan><tspan class="i">I</tspan><tspan class="i">I</tspan></text>
<text class="t" x="32.40" y="420.20" textLength="6.20" lengthAdjust="spacingAndGlyphs">0</text><text class="t" x="25.60" y="367.46" textLength="13.00" lengthAdjust="spacingAndGlyphs">20</text><text class="t" x="25.60" y="314.72" textLength="13.00" lengthAdjust="spacingAndGlyphs">40</text><text class="t" x="25.60" y="261.98" textLength="13.00" lengthAdjust="spacingAndGlyphs">60</text><text class="t" x="25.60" y="209.24" textLength="13.00" lengthAdjust="spacingAndGlyphs">80</text><text class="t" x="20.30" y="156.50" textLength="18.30" lengthAdjust="spacingAndGlyphs">100</text>
<text class="t" x="50.95" y="430.1" textLength="18.3" lengthAdjust="spacingAndGlyphs">400</text><text class="t" x="311.45" y="430.1" textLength="18.3" lengthAdjust="spacingAndGlyphs">500</text><text class="t" x="571.95" y="430.1" textLength="18.3" lengthAdjust="spacingAndGlyphs">600</text>
<text x="340" y="444.6" class="b">Wavelength [nm]</text>
<text transform="translate(18,338.5) rotate(-90)" class="b" style="font-size:12px">Transmission [%]</text>
</svg>
</body></html>
